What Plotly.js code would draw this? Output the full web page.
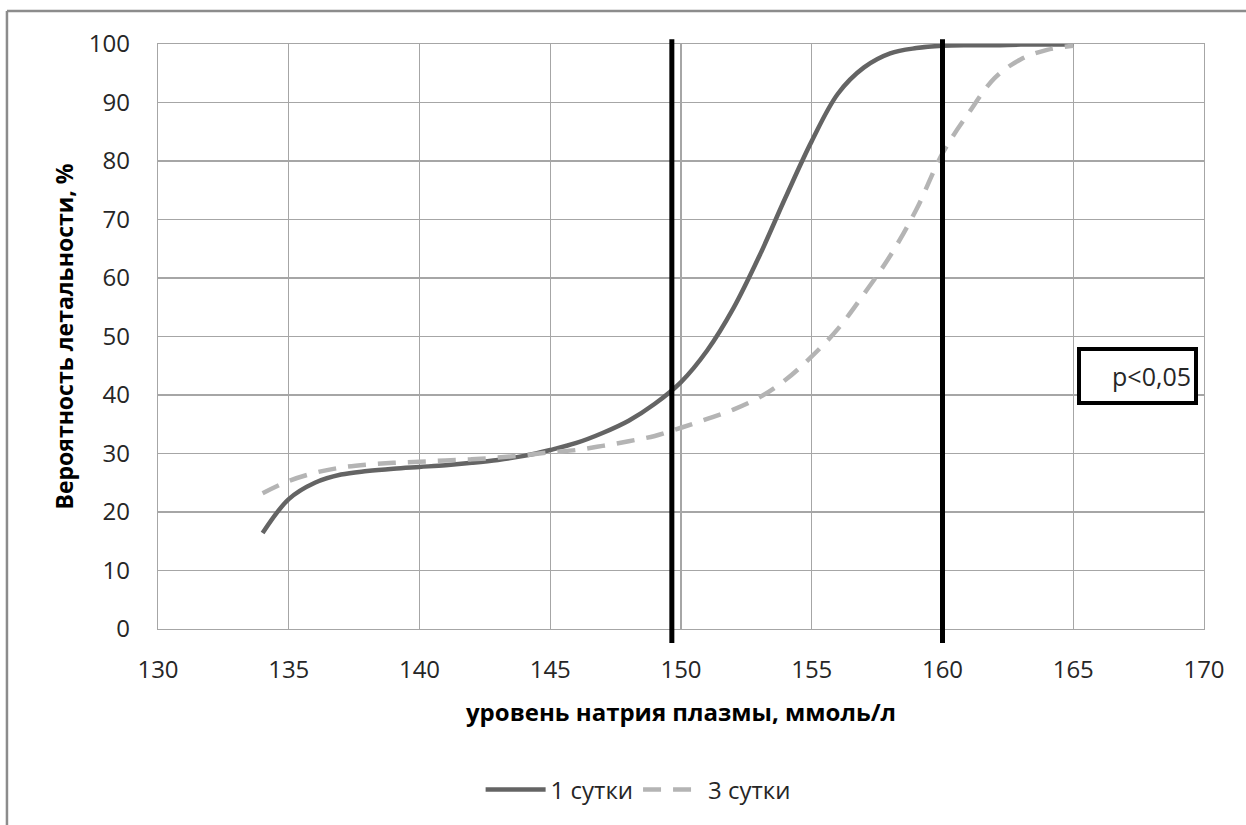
<!DOCTYPE html>
<html>
<head>
<meta charset="utf-8">
<script src="https://cdn.plot.ly/plotly-3.0.1.min.js"></script>
<style>
  html, body { margin: 0; padding: 0; background: #ffffff; }
  #chart { width: 1246px; height: 825px; }
</style>
</head>
<body>
<div id="chart"></div>
<script>
// Sodium level (mmol/L)
var sodium = [134,135,136,137,138,139,140,141,142,143,144,145,146,147,148,149,150,151,152,153,154,155,156,157,158,159,160,161,162,163,164,165];
// Lethality probability, %, day 1
var day1 = [16.4,22.2,25.0,26.4,27.0,27.4,27.7,28.0,28.4,28.9,29.6,30.6,31.8,33.5,35.6,38.5,42.2,47.6,54.8,63.8,73.8,83.4,91.5,96.0,98.4,99.3,99.7,99.8,99.8,99.9,99.9,99.9];
// Lethality probability, %, day 3
var day3 = [23.2,25.3,26.7,27.6,28.1,28.4,28.6,28.8,29.0,29.3,29.7,30.2,30.6,31.3,32.1,33.0,34.4,35.9,37.5,39.6,42.6,46.6,51.3,57.3,63.8,71.7,81.3,88.2,94.2,97.4,99.0,99.7];
var seriesNames = ["1 сутки", "3 сутки"];
var thresholds = [149.65, 160];
var xTicks = [130,135,140,145,150,155,160,165,170];
var yTicks = [0,10,20,30,40,50,60,70,80,90,100];
var xTitle = "уровень натрия плазмы, ммоль/л";
var yTitle = "Вероятность летальности, %";
var noteText = "p<0,05";

var FONT = "'Open Sans', 'Noto Sans', sans-serif";
var GRID = "#a6a6a6";

var traces = [
  {
    x: sodium, y: day1, name: seriesNames[0], type: "scatter", mode: "lines",
    line: { color: "#646464", width: 4.5, shape: "spline", smoothing: 1.0 }
  },
  {
    x: sodium, y: day3, name: seriesNames[1], type: "scatter", mode: "lines",
    line: { color: "#b4b4b4", width: 4.5, shape: "spline", smoothing: 1.0, dash: "18px,12px" }
  }
];

var shapes = thresholds.map(function (t) {
  return {
    type: "line", xref: "x", yref: "paper",
    x0: t, x1: t, y0: -0.024, y1: 1.008,
    line: { color: "#000000", width: 5 }, layer: "above"
  };
});
// outer chart frame (left and top edges visible)
shapes.push({
  type: "line", xref: "paper", yref: "paper",
  x0: -0.1444, x1: -0.1444, y0: -0.4, y1: 1.0564,
  line: { color: "#8c8c8c", width: 2.5 }
});
shapes.push({
  type: "line", xref: "paper", yref: "paper",
  x0: -0.1444, x1: 1.1, y0: 1.0564, y1: 1.0564,
  line: { color: "#8c8c8c", width: 2.5 }
});

var layout = {
  width: 1246, height: 825,
  margin: { l: 158, r: 42, t: 44, b: 196 },
  paper_bgcolor: "#ffffff", plot_bgcolor: "#ffffff",
  font: { family: FONT, color: "#262626", size: 24 },
  showlegend: true,
  legend: {
    orientation: "h", x: 0.459, xanchor: "center", y: -0.275, yanchor: "middle",
    font: { family: FONT, size: 24, color: "#262626" },
    itemwidth: 60, tracegroupgap: 0
  },
  xaxis: {
    range: [130, 170], tickmode: "array", tickvals: xTicks, ticktext: xTicks.map(String),
    showgrid: true, gridcolor: GRID, gridwidth: 1.2, zeroline: false,
    showline: true, linecolor: GRID, linewidth: 1.2, mirror: true,
    ticks: "", ticklabelstandoff: 19,
    tickfont: { family: FONT, size: 24, color: "#262626" },
    title: { text: xTitle, standoff: 20, font: { family: FONT, size: 24, color: "#000000", weight: "bold" } }
  },
  yaxis: {
    range: [0, 100], tickmode: "array", tickvals: yTicks, ticktext: yTicks.map(String),
    showgrid: true, gridcolor: GRID, gridwidth: 1.2, zeroline: false,
    showline: true, linecolor: GRID, linewidth: 1.2, mirror: true,
    ticks: "", ticklabelstandoff: 22,
    tickfont: { family: FONT, size: 24, color: "#262626" },
    title: { text: yTitle, standoff: 8, font: { family: FONT, size: 23, color: "#000000", weight: "bold" } }
  },
  shapes: shapes,
  annotations: [
    {
      text: noteText, xref: "paper", yref: "paper", x: 0.9364, y: 0.4325,
      xanchor: "center", yanchor: "middle", showarrow: false,
      width: 107, height: 44, align: "right", valign: "middle",
      bordercolor: "#000000", borderwidth: 4, borderpad: 3, bgcolor: "#ffffff",
      font: { family: FONT, size: 25, color: "#262626" }
    }
  ]
};

Plotly.newPlot("chart", traces, layout, { displayModeBar: false, staticPlot: true });
</script>
</body>
</html>
